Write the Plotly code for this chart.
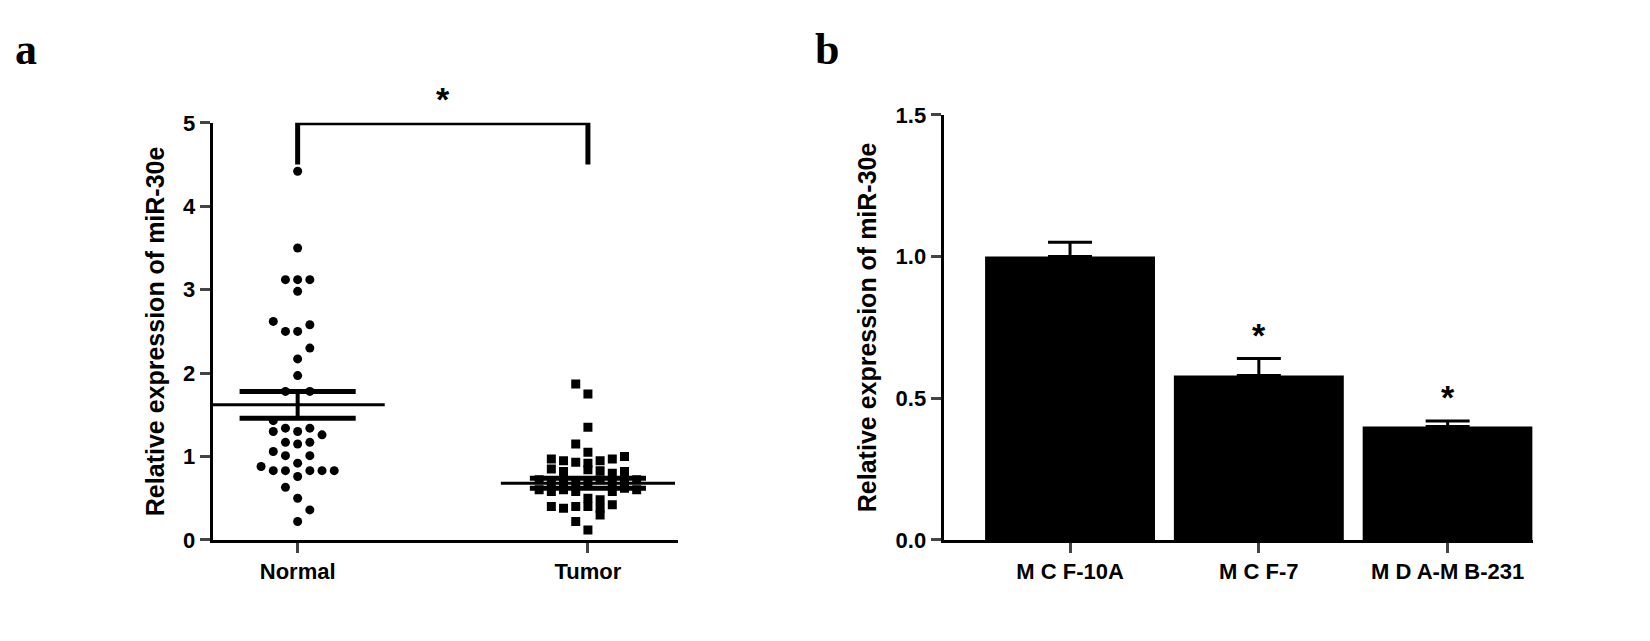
import plotly.graph_objects as go

# Panel a data: (value, jitter offset in steps)
normal_vals = [4.42, 3.50, 3.12, 3.12, 3.12, 2.98, 2.62, 2.58, 2.50, 2.50, 2.30, 2.17, 1.97,
               1.78, 1.78, 1.43, 1.34, 1.34, 1.30, 1.30, 1.26, 1.17, 1.17, 1.15, 1.06,
               1.01, 1.01, 0.92, 0.88, 0.83, 0.83, 0.83, 0.83, 0.83, 0.76, 0.63, 0.50, 0.36, 0.22]
normal_off = [0, 0, -1, 0, 1, 0, -2, 1, -1, 0, 1, 0, 0,
              -1, 1, -2, -1, 1, 0, -2, 2, -1, 1, 0, -2,
              -1, 1, 0, -3, -2, -1, 1, 2, 3, 0, -1, 0, 1, 0]
tumor_vals = [1.87, 1.75, 1.35, 1.15, 1.05,
              0.97, 0.95, 0.93, 0.92, 0.95, 0.97, 1.00,
              0.85, 0.82, 0.83, 0.80, 0.82, 0.84,
              0.72, 0.70, 0.70, 0.68, 0.70, 0.72, 0.70, 0.68, 0.72,
              0.60, 0.58, 0.60, 0.58, 0.62, 0.60, 0.58,
              0.50, 0.48, 0.40, 0.38, 0.40, 0.40, 0.38, 0.42, 0.30, 0.22, 0.12]
tumor_off = [-1, 0, 0, -1, 0,
             -3, -2, -1, 0, 1, 2, 3,
             -3, -2, 1, 2, 3, 0,
             -4, -3, -2, -1, 0, 1, 2, 3, 4,
             -4, -3, -2, 2, 3, 4, -1,
             0, 1, -3, -2, -1, 0, 1, 2, 1, -1, 0]
normal_mean, normal_sem = 1.62, 0.16
tumor_mean, tumor_sem = 0.68, 0.06

# Panel b data
cells = ["MCF-10A", "MCF-7", "MDA-MB-231"]
bar_vals = [1.00, 0.58, 0.40]
bar_err = [0.05, 0.06, 0.02]

step = 0.042
fig = go.Figure()
fig.add_trace(go.Scatter(x=[1 + o * step for o in normal_off], y=normal_vals, mode="markers",
                         marker=dict(symbol="circle", size=9, color="black"), xaxis="x", yaxis="y"))
fig.add_trace(go.Scatter(x=[2 + o * step for o in tumor_off], y=tumor_vals, mode="markers",
                         marker=dict(symbol="square", size=9, color="black"), xaxis="x", yaxis="y"))
for c, m, s in [(1, normal_mean, normal_sem), (2, tumor_mean, tumor_sem)]:
    fig.add_trace(go.Scatter(x=[c - 0.3, c + 0.3], y=[m, m],
                             mode="lines", line=dict(color="black", width=3), xaxis="x", yaxis="y"))
    fig.add_trace(go.Scatter(x=[c, c], y=[m - s, m + s], mode="lines", line=dict(color="black", width=4),
                             xaxis="x", yaxis="y"))
    for yy in (m - s, m + s):
        fig.add_trace(go.Scatter(x=[c - 0.2, c + 0.2], y=[yy, yy], mode="lines",
                                 line=dict(color="black", width=5), xaxis="x", yaxis="y"))
# significance bracket
fig.add_trace(go.Scatter(x=[1, 1, 2, 2], y=[4.5, 5.0, 5.0, 4.5], mode="lines",
                         line=dict(color="black", width=5), xaxis="x", yaxis="y"))

fig.add_trace(go.Bar(x=cells, y=bar_vals, marker=dict(color="black", line=dict(width=0)), width=0.9,
                     error_y=dict(type="data", array=bar_err, symmetric=False, arrayminus=[0, 0, 0],
                                  color="black", thickness=3, width=22),
                     xaxis="x2", yaxis="y2"))

tickfont = dict(family="Arial, Liberation Sans", size=22, color="black")
titlefont = dict(family="Arial, Liberation Sans", size=25, color="black")
common = dict(showline=True, linecolor="black", linewidth=3, ticks="outside", ticklen=10, tickwidth=3,
              tickfont=tickfont, showgrid=False, zeroline=False)
fig.update_layout(
    width=1650, height=641, showlegend=False, plot_bgcolor="white", paper_bgcolor="white",
    margin=dict(l=0, r=0, t=0, b=0),
    xaxis=dict(domain=[0.124, 0.406], range=[0.707, 2.31], tickvals=[1, 2],
               ticktext=["<b>Normal</b>", "<b>Tumor</b>"], **common),
    yaxis=dict(domain=[0.156, 0.833], range=[0, 5], tickvals=[0, 1, 2, 3, 4, 5],
               ticktext=[f"<b>{v}</b>" for v in range(6)],
               title=dict(text="<b>Relative expression of miR-30e</b>", font=titlefont, standoff=12), **common),
    xaxis2=dict(domain=[0.567, 0.924], range=[-0.67, 2.45], tickvals=cells,
                ticktext=["<b>M C F-10A</b>", "<b>M C F-7</b>", "<b>M D A-M B-231</b>"], anchor="y2", **common),
    yaxis2=dict(domain=[0.156, 0.846], range=[0, 1.5], tickvals=[0, 0.5, 1.0, 1.5],
                ticktext=["<b>0.0</b>", "<b>0.5</b>", "<b>1.0</b>", "<b>1.5</b>"], anchor="x2",
                title=dict(text="<b>Relative expression of miR-30e</b>", font=titlefont, standoff=12), **common),
)
fig.add_annotation(x=1.5, y=5.0, xref="x", yref="y", text="<b>*</b>", showarrow=False, yshift=24,
                   font=dict(family="Arial", size=34, color="black"))
for c, v, e in zip(cells[1:], bar_vals[1:], bar_err[1:]):
    fig.add_annotation(x=c, y=v + e, xref="x2", yref="y2", text="<b>*</b>", showarrow=False, yshift=24,
                       font=dict(family="Arial", size=34, color="black"))
fig.add_annotation(x=0.003, y=0.995, xref="paper", yref="paper", text="<b>a</b>", showarrow=False,
                   xanchor="left", yanchor="top", font=dict(family="Liberation Serif", size=44, color="black"))
fig.add_annotation(x=0.488, y=0.995, xref="paper", yref="paper", text="<b>b</b>", showarrow=False,
                   xanchor="left", yanchor="top", font=dict(family="Liberation Serif", size=44, color="black"))
fig.write_html("out.html")
